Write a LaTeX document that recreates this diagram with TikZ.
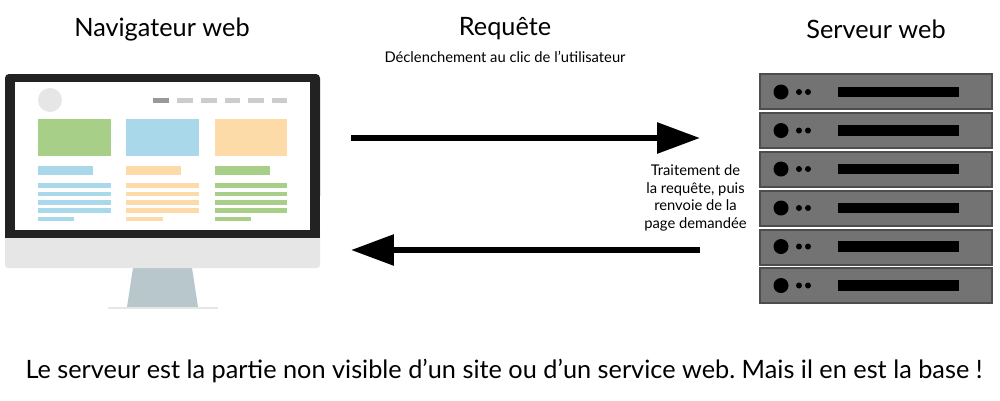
\documentclass[tikz,border=0pt]{standalone}
\usepackage{fontspec}
\setmainfont{Lato}
\usepackage{xcolor}
\usetikzlibrary{arrows.meta,positioning}

\definecolor{screenblack}{HTML}{222222}
\definecolor{chinsilver}{HTML}{E6E6E6}
\definecolor{standgrey}{HTML}{B7C7CB}
\definecolor{webgreen}{HTML}{A7CF87}
\definecolor{webblue}{HTML}{A8D8EA}
\definecolor{weborange}{HTML}{FCDBA8}
\definecolor{rackgrey}{HTML}{737373}
\definecolor{rackedge}{HTML}{4D4D4D}

\begin{document}
\frenchspacing
\begin{tikzpicture}[
            x = 0.02cm, y = -0.02cm, % one unit is one pixel, y goes down
            > = {Triangle[length=0.86cm, width=0.6cm]}, % arrow head style
            line width = 0.12cm
        ]

        \tikzstyle{title}=[font=\fontsize{14.4}{16}\selectfont]
        \tikzstyle{small}=[font=\fontsize{8.4}{10.1}\selectfont, align=center]
        \tikzstyle{rack}=[draw = rackedge, fill = rackgrey, line width = 0.04cm]

        \useasboundingbox (0,0) rectangle (1000,400);

        % Titles
        \node[title] (browser) [at={(162,29)}] {Navigateur web};
        \node[title] (request) [at={(505,29)}] {Requête};
        \node[title] (server) [at={(876,29)}] {Serveur web};
        \node[small] (click) [at={(505,57)}] {Déclenchement au clic de l’utilisateur};
        \node[small] (process) [at={(695.5,198)}] {Traitement de\\la requête, puis\\renvoie de la\\page demandée};
        \node[font=\fontsize{14.4}{16}\selectfont] (base) [at={(504,371)}] {Le serveur est la partie non visible d’un site ou d’un service web. Mais il en est la base !};

        % Monitor
        \fill[standgrey] (133,268) -- (192,268) -- (198,307) -- (127,307) -- cycle;
        \fill[chinsilver] (108,307) rectangle (218,309);
        \fill[chinsilver, rounded corners=0.06cm] (5,225) rectangle (320,268);
        \fill[screenblack, rounded corners=0.08cm] (5,74) rectangle (320,200);
        \fill[screenblack] (5,150) rectangle (320,238);
        \fill[white] (15,82) rectangle (310,230);

        % Page header
        \fill[chinsilver] (50,100) circle (12);
        \fill[black!40] (153,98) rectangle (169,103);
        \fill[black!20] (177,98) rectangle (193,103);
        \fill[black!20] (201,98) rectangle (217,103);
        \fill[black!20] (225,98) rectangle (240,103);
        \fill[black!20] (248,98) rectangle (264,103);
        \fill[black!20] (272,98) rectangle (287,103);

        % Left column
        \fill[webgreen] (38,119) rectangle (111,156);
        \fill[webblue] (38,166) rectangle (93,175);
        \fill[webblue] (38,183) rectangle (111,188);
        \fill[webblue] (38,191.5) rectangle (111,196);
        \fill[webblue] (38,200) rectangle (111,205);
        \fill[webblue] (38,208) rectangle (111,213);
        \fill[webblue] (38,216.5) rectangle (74,221);

        % Middle column
        \fill[webblue] (126,119) rectangle (199,156);
        \fill[weborange] (126,166) rectangle (181,175);
        \fill[weborange] (126,183) rectangle (199,188);
        \fill[weborange] (126,191.5) rectangle (199,196);
        \fill[weborange] (126,200) rectangle (199,205);
        \fill[weborange] (126,208) rectangle (199,213);
        \fill[weborange] (126,216.5) rectangle (163,221);

        % Right column
        \fill[weborange] (215,119) rectangle (287,156);
        \fill[webgreen] (215,166) rectangle (270,175);
        \fill[webgreen] (215,183) rectangle (287,188);
        \fill[webgreen] (215,191.5) rectangle (287,196);
        \fill[webgreen] (215,200) rectangle (287,205);
        \fill[webgreen] (215,208) rectangle (287,213);
        \fill[webgreen] (215,216.5) rectangle (251,221);

        % Server racks
        \draw[rack] (760,74) rectangle (992,109);
        \draw[rack] (760,113) rectangle (992,148);
        \draw[rack] (760,151.5) rectangle (992,186.5);
        \draw[rack] (760,190.5) rectangle (992,225.5);
        \draw[rack] (760,229.5) rectangle (992,264.5);
        \draw[rack] (760,268) rectangle (992,303);

        \foreach \y in {92,130.5,169,208,246.5,285.5} {
            \fill (781,\y) circle (7.5);
            \fill (799,\y) circle (3);
            \fill (808,\y) circle (3);
            \fill (838,\y-5.3) rectangle (959,\y+5.3);
        }

        % Request and response
        \coordinate (reqstart) at (351,138);
        \coordinate (reqend) at (700,138);
        \coordinate (respstart) at (700,250);
        \coordinate (respend) at (351,250);

        \path[->, draw] (reqstart) -- (reqend);
        \path[->, draw] (respstart) -- (respend);

\end{tikzpicture}
\end{document}
